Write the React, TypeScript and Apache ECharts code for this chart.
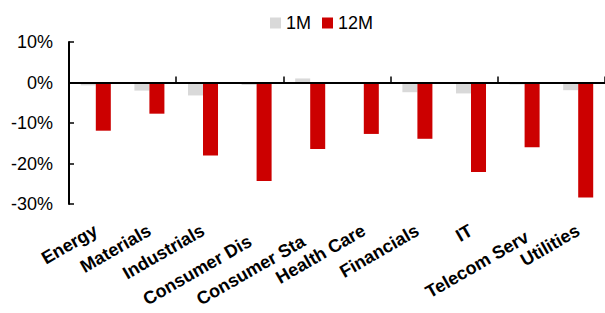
import React, { useEffect, useRef } from "react";
import * as echarts from "echarts";

const categories = [
  "Energy",
  "Materials",
  "Industrials",
  "Consumer Dis",
  "Consumer Sta",
  "Health Care",
  "Financials",
  "IT",
  "Telecom Serv",
  "Utilities",
];
const oneMonth = [-0.7, -2.0, -3.2, -0.6, 1.0, -0.2, -2.4, -2.7, -0.5, -1.9];
const twelveMonth = [-11.9, -7.7, -18.0, -24.3, -16.4, -12.7, -13.9, -22.1, -16.0, -28.4];
const seriesNames = ["1M", "12M"];

const FONT = "'Liberation Sans', Arial, sans-serif";
// the longer labels sit a little lower in the reference
const LABEL_STYLE_KEY: Record<string, string> = {
  "Consumer Dis": "b",
  "Consumer Sta": "b",
  "Telecom Serv": "c",
};

export default function App() {
  const ref = useRef<HTMLDivElement>(null);
  useEffect(() => {
    if (!ref.current) return;
    const chart = echarts.init(ref.current, null, { renderer: "svg" });
    const labelBase = { fontSize: 18, fontWeight: "bold", color: "#000", fontFamily: FONT };
    chart.setOption({
      animation: false,
      backgroundColor: "#ffffff",
      textStyle: { fontFamily: FONT },
      legend: {
        data: seriesNames,
        left: 265,
        top: 9,
        icon: "rect",
        itemWidth: 11,
        itemHeight: 11,
        itemGap: 11,
        textStyle: { fontSize: 18, color: "#000", fontFamily: FONT },
      },
      grid: { left: 69, right: 0, top: 42, bottom: 109, containLabel: false },
      xAxis: [
        {
          type: "category",
          data: categories,
          position: "bottom",
          z: 10,
          axisLine: { show: true, onZero: true, lineStyle: { color: "#000", width: 2 } },
          axisTick: { show: true, inside: true, length: 6, lineStyle: { color: "#000", width: 1.5 } },
          axisLabel: { show: false },
          splitLine: { show: false },
        },
        {
          type: "category",
          data: categories,
          position: "bottom",
          axisLine: { show: false, onZero: false },
          axisTick: { show: false },
          axisLabel: {
            show: true,
            interval: 0,
            rotate: 30,
            margin: 25,
            ...labelBase,
            formatter: (v: string) => `{${LABEL_STYLE_KEY[v] || "a"}|${v}}`,
            rich: {
              a: { ...labelBase },
              b: { ...labelBase, padding: [12, 11, 0, 0] },
              c: { ...labelBase, padding: [14, 1, 0, 0] },
            },
          },
          splitLine: { show: false },
        },
      ],
      yAxis: {
        type: "value",
        min: -30,
        max: 10,
        interval: 10,
        axisLine: { show: true, lineStyle: { color: "#000", width: 2 } },
        axisTick: { show: true, inside: true, length: 5, lineStyle: { color: "#000", width: 1.5 } },
        axisLabel: {
          formatter: "{value}%",
          fontSize: 18,
          color: "#000",
          margin: 16,
          fontFamily: FONT,
        },
        splitLine: { show: false },
      },
      series: [
        {
          name: seriesNames[0],
          type: "bar",
          xAxisIndex: 0,
          data: oneMonth,
          itemStyle: { color: "#d9d9d9" },
          barGap: "0%",
          barCategoryGap: "44%",
        },
        {
          name: seriesNames[1],
          type: "bar",
          xAxisIndex: 0,
          data: twelveMonth,
          itemStyle: { color: "#cc0000" },
          barGap: "0%",
          barCategoryGap: "44%",
        },
      ],
    });
    return () => chart.dispose();
  }, []);
  return (
    <div
      ref={ref}
      style={{ position: "fixed", left: 0, top: 0, width: 605, height: 313, background: "#fff" }}
    />
  );
}
